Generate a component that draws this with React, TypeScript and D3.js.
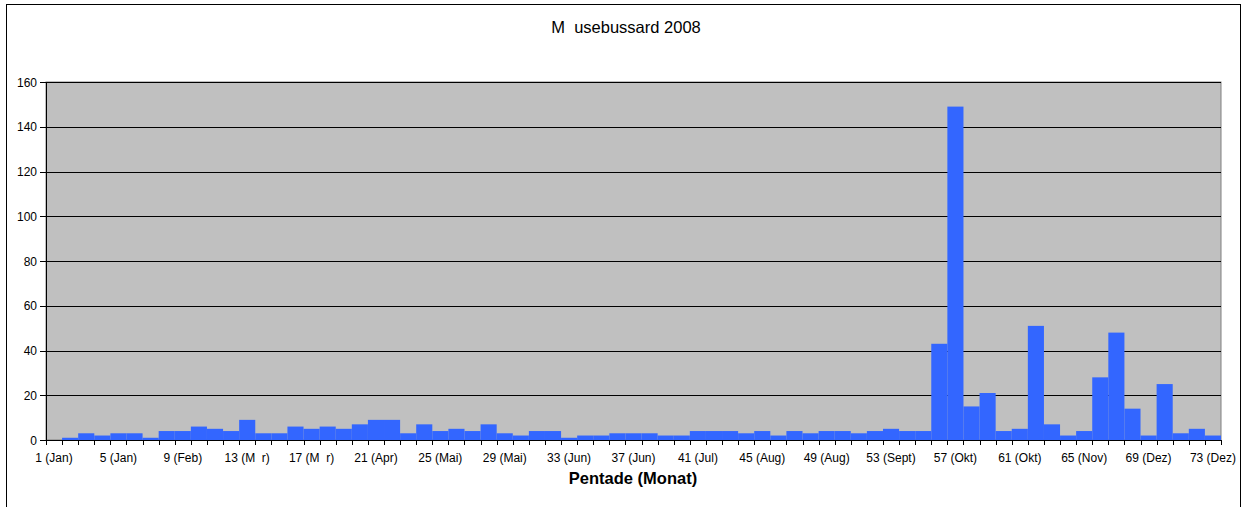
import React from "react";
import * as d3 from "d3";

const titleText = "M\u2007usebussard 2008";
const xAxisTitle = "Pentade (Monat)";
const pentades: number[] = d3.range(1, 74);
const counts: number[] = [
  0, 1, 3, 2, 3, 3, 1, 4, 4, 6, 5, 4, 9, 3, 3, 6, 5, 6, 5, 7,
  9, 9, 3, 7, 4, 5, 4, 7, 3, 2, 4, 4, 1, 2, 2, 3, 3, 3, 2, 2,
  4, 4, 4, 3, 4, 2, 4, 3, 4, 4, 3, 4, 5, 4, 4, 43, 149, 15, 21, 4,
  5, 51, 7, 2, 4, 28, 48, 14, 2, 25, 3, 5, 2,
];
const tickLabels: string[] = [
  "1 (Jan)", "5 (Jan)", "9 (Feb)", "13 (M\u2007r)", "17 (M\u2007r)", "21 (Apr)",
  "25 (Mai)", "29 (Mai)", "33 (Jun)", "37 (Jun)", "41 (Jul)", "45 (Aug)",
  "49 (Aug)", "53 (Sept)", "57 (Okt)", "61 (Okt)", "65 (Nov)", "69 (Dez)", "73 (Dez)",
];
const yTicks: number[] = [0, 20, 40, 60, 80, 100, 120, 140, 160];

const W = 1242;
const H = 507;
const left = 46;
const right = 1221;
const top = 82;
const bottom = 440;
const font = "'Liberation Sans', Arial, sans-serif";

export default function App() {
  const x = d3
    .scaleBand<number>()
    .domain(pentades)
    .range([left, right])
    .paddingInner(0)
    .paddingOuter(0);
  const y = d3.scaleLinear().domain([0, 160]).range([bottom, top]);
  const bw = x.bandwidth();

  return (
    <div style={{ position: "absolute", left: 0, top: 0 }}>
      <svg width={W} height={H} style={{ display: "block" }}>
        <rect x={0} y={0} width={W} height={H} fill="#fff" />
        <rect x={6.5} y={4.5} width={1234} height={520} fill="#fff" stroke="#000" strokeWidth={1} />
        <text
          x={626}
          y={33}
          textAnchor="middle"
          fontFamily={font}
          fontSize={16.5}
          style={{ whiteSpace: "pre" }}
        >
          {titleText}
        </text>
        <rect x={left} y={top} width={right - left} height={bottom - top} fill="#C0C0C0" stroke="#808080" strokeWidth={1} />
        {yTicks.map((t) =>
          t > 0 ? (
            <line key={"g" + t} x1={left} x2={right} y1={Math.round(y(t)) + 0.5} y2={Math.round(y(t)) + 0.5} stroke="#000" strokeWidth={1} />
          ) : null
        )}
        {pentades.map((p, i) =>
          counts[i] > 0 ? (
            <rect
              key={"b" + p}
              x={x(p)}
              y={y(counts[i])}
              width={bw}
              height={bottom - y(counts[i])}
              fill="#3366FF"
            />
          ) : null
        )}
        {/* y axis */}
        <line x1={left + 0.5} x2={left + 0.5} y1={top} y2={bottom} stroke="#000" />
        {yTicks.map((t) => (
          <g key={"yt" + t}>
            <line x1={left - 6} x2={left} y1={Math.round(y(t)) + 0.5} y2={Math.round(y(t)) + 0.5} stroke="#000" />
            <text x={left - 9} y={y(t) + 4.5} textAnchor="end" fontFamily={font} fontSize={12}>
              {t}
            </text>
          </g>
        ))}
        {/* x axis */}
        <line x1={left} x2={right + 1} y1={bottom + 0.5} y2={bottom + 0.5} stroke="#000" />
        {pentades.map((p) => (
          <line key={"xt" + p} x1={Math.round(x(p)!) + 0.5} x2={Math.round(x(p)!) + 0.5} y1={bottom} y2={bottom + 5} stroke="#000" />
        ))}
        <line x1={right + 0.5} x2={right + 0.5} y1={bottom} y2={bottom + 5} stroke="#000" />
        {tickLabels.map((lab, k) => {
          const p = pentades[k * 4];
          return (
            <text
              key={"xl" + k}
              x={x(p)! + bw / 2}
              y={462}
              textAnchor="middle"
              fontFamily={font}
              fontSize={12}
              style={{ whiteSpace: "pre" }}
            >
              {lab}
            </text>
          );
        })}
        <text x={633} y={484} textAnchor="middle" fontFamily={font} fontSize={16.5} fontWeight="bold">
          {xAxisTitle}
        </text>
      </svg>
    </div>
  );
}
